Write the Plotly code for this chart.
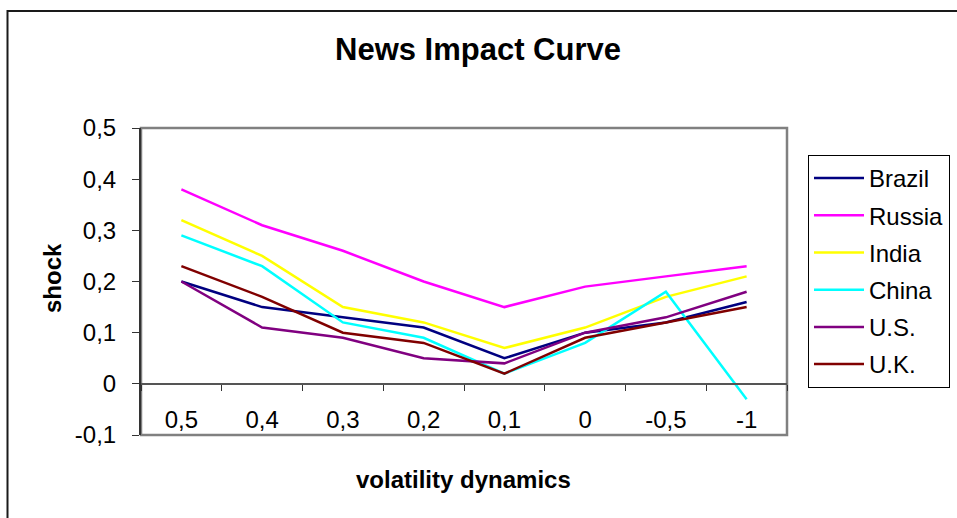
import plotly.graph_objects as go

categories = ["0,5", "0,4", "0,3", "0,2", "0,1", "0", "-0,5", "-1"]

brazil = [0.20, 0.15, 0.13, 0.11, 0.05, 0.10, 0.12, 0.16]
russia = [0.38, 0.31, 0.26, 0.20, 0.15, 0.19, 0.21, 0.23]
india = [0.32, 0.25, 0.15, 0.12, 0.07, 0.11, 0.17, 0.21]
china = [0.29, 0.23, 0.12, 0.09, 0.02, 0.08, 0.18, -0.03]
us = [0.20, 0.11, 0.09, 0.05, 0.04, 0.10, 0.13, 0.18]
uk = [0.23, 0.17, 0.10, 0.08, 0.02, 0.09, 0.12, 0.15]

series_names = ["Brazil", "Russia", "India", "China", "U.S.", "U.K."]
series_values = [brazil, russia, india, china, us, uk]
series_colors = ["#000080", "#FF00FF", "#FFFF00", "#00FFFF", "#800080", "#800000"]

y_tick_vals = [-0.1, 0, 0.1, 0.2, 0.3, 0.4, 0.5]
y_tick_text = ["-0,1", "0", "0,1", "0,2", "0,3", "0,4", "0,5"]

FONT = "Liberation Sans, Arial, sans-serif"
FS = 24

fig = go.Figure()
for name, vals, col in zip(series_names, series_values, series_colors):
    fig.add_trace(go.Scatter(
        x=categories, y=vals, name=name, mode="lines",
        line=dict(color=col, width=2.5), legendgroup=name,
    ))

W, H = 957, 518
L, R, T, B = 141, 170, 128, 83
pw, ph = W - L - R, H - T - B

def px_x(p):
    return (p - L) / pw

def px_y(p):
    return (H - B - p) / ph

fig.update_layout(
    width=W, height=H,
    margin=dict(l=L, r=R, t=T, b=B, autoexpand=False),
    paper_bgcolor="white", plot_bgcolor="white",
    font=dict(family=FONT, size=FS, color="black"),
    title=dict(text="<b>News Impact Curve</b>", x=478 / W,
               xanchor="center", y=1 - 49 / H, yanchor="middle",
               font=dict(size=31, family=FONT, color="black")),
    showlegend=True,
    legend=dict(x=px_x(808), y=px_y(155), xanchor="left", yanchor="top",
                bordercolor="black", borderwidth=1, bgcolor="white",
                font=dict(size=FS, family=FONT), tracegroupgap=3,
                itemwidth=50),
    xaxis=dict(
        type="category", range=[-0.5, 7.5], anchor="free",
        position=(0 - (-0.1)) / 0.6,
        showline=True, linecolor="#555555", linewidth=1.5,
        ticks="outside", ticklen=6, tickcolor="#333333", tickson="boundaries",
        ticklabelstandoff=15,
        showgrid=False, zeroline=False,
        tickfont=dict(size=FS, family=FONT),
    ),
    yaxis=dict(
        range=[-0.1, 0.5], tickvals=y_tick_vals, ticktext=y_tick_text,
        showline=True, linecolor="#333333", linewidth=2,
        ticks="outside", ticklen=7, tickcolor="#333333",
        ticklabelstandoff=11,
        showgrid=False, zeroline=False,
        tickfont=dict(size=FS, family=FONT),
    ),
    annotations=[
        dict(text="<b>shock</b>", xref="paper", yref="paper",
             x=px_x(52), y=px_y(278), textangle=-90, showarrow=False,
             xanchor="center", yanchor="middle",
             font=dict(size=FS, family=FONT, color="black")),
        dict(text="<b>volatility dynamics</b>", xref="paper", yref="paper",
             x=px_x(463), y=px_y(479), showarrow=False,
             xanchor="center", yanchor="middle",
             font=dict(size=FS, family=FONT, color="black")),
    ],
    shapes=[
        dict(type="rect", xref="paper", yref="paper", x0=0, x1=1, y0=0, y1=1,
             line=dict(color="#808080", width=2.5), layer="below"),
        dict(type="rect", xref="paper", yref="paper",
             x0=px_x(7.5), x1=px_x(1100), y0=px_y(700), y1=px_y(11),
             line=dict(color="#1a1a1a", width=2)),
    ],
)

fig.write_html("out.html", config={"displayModeBar": False},
               post_script="document.body.style.margin='0';document.body.style.overflow='hidden';")
